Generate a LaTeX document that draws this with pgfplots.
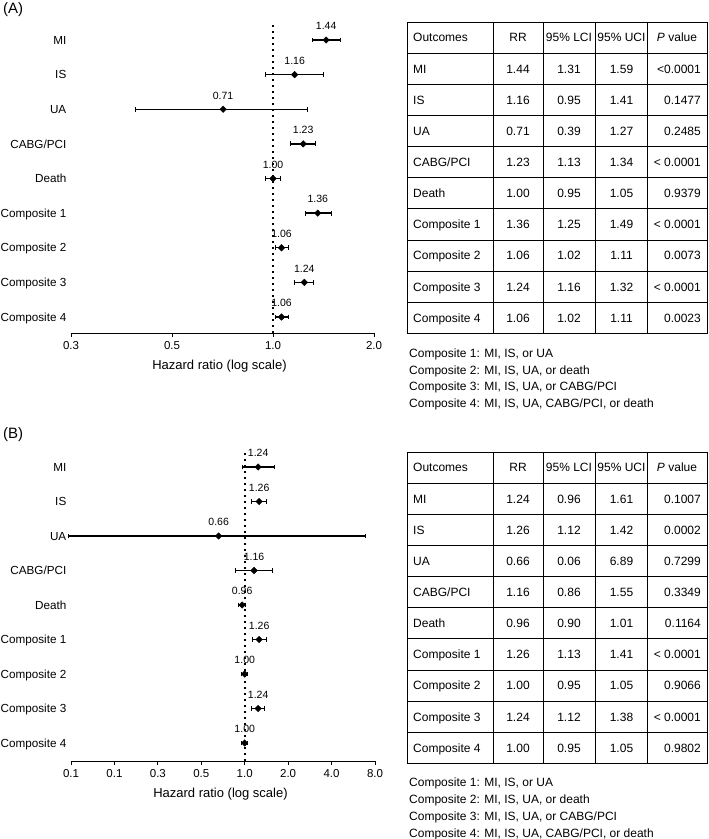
\documentclass[border=0pt]{standalone}
\usepackage{fontspec}
\setmainfont{Liberation Sans}
\usepackage{pgfplots}
\pgfplotsset{compat=1.18}
\usepackage{pgfplotstable}

% panel A: y position (9 = MI ... 1 = Composite 4), RR, lower CI, upper CI
\pgfplotstableread{
y rr lo hi
9 1.44 1.31 1.59
8 1.16 0.95 1.41
7 0.71 0.39 1.27
6 1.23 1.13 1.34
5 1.00 0.95 1.05
4 1.36 1.25 1.49
3 1.06 1.02 1.11
2 1.24 1.16 1.32
1 1.06 1.02 1.11
}\dataA
% panel B
\pgfplotstableread{
y rr lo hi
9 1.24 0.96 1.61
8 1.26 1.12 1.42
7 0.66 0.06 6.89
6 1.16 0.86 1.55
5 0.96 0.90 1.01
4 1.26 1.13 1.41
3 1.00 0.95 1.05
2 1.24 1.12 1.38
1 1.00 0.95 1.05
}\dataB

\newcommand{\trow}[7]{% #1 top y, #2 row index, #3..#7 cells
  \path (413,{#1+31.15*(#2+0.5)}) node[cell,anchor=west]{#3}
        (518,{#1+31.15*(#2+0.5)}) node[cell]{#4}
        (569,{#1+31.15*(#2+0.5)}) node[cell]{#5}
        (621.5,{#1+31.15*(#2+0.5)}) node[cell]{#6}
        (701,{#1+31.15*(#2+0.5)}) node[cell,anchor=east]{#7};}
\newcommand{\tgrid}[1]{% #1 top y
  \foreach \i in {0,...,10}{\draw[line width=0.9pt] (407,{#1+31.15*\i}) -- (707,{#1+31.15*\i});}
  \foreach \xx in {407,493,543,595.5,647.5,707}{\draw[line width=0.9pt] (\xx,#1) -- (\xx,{#1+311.5});}}

\begin{document}
\begin{tikzpicture}
\useasboundingbox (0,0) rectangle (709pt,-839pt);

% ---------------- Panel A ----------------
\begin{axis}[at={(71pt,-333pt)}, anchor=south west,
  scale only axis, xmode=log, log basis x=2,
  width=303pt, height=310.3pt, xmin=0.25, xmax=2, ymin=0.538, ymax=9.5,
  axis x line*=bottom, axis y line*=left,
  y axis line style={draw=none}, ytick style={draw=none},
  x axis line style={line width=0.9pt, black},
  xtick style={line width=0.9pt, black}, tick align=outside, major tick length=3.5pt,
  xtick={0.25,0.5,1,2}, xticklabels={0.3,0.5,1.0,2.0},
  ytick={1,2,3,4,5,6,7,8,9},
  yticklabels={Composite 4,Composite 3,Composite 2,Composite 1,Death,CABG/PCI,UA,IS,MI},
  yticklabel style={font=\fontsize{11.7}{14}\selectfont, anchor=east, inner sep=0pt, xshift=-1pt, text height=8.4pt, text depth=0pt},
  xticklabel style={font=\fontsize{11.5}{13}\selectfont, anchor=center, inner sep=0pt, text height=8.2pt, text depth=0pt, yshift=-8.4pt},
  clip=false,
  xlabel={Hazard ratio (log scale)},
  xlabel style={font=\fontsize{13}{15}\selectfont, at={(axis description cs:0.5,0)}, anchor=center, yshift=-33pt, xshift=-3pt}]
\addplot[black, line width=1.7pt, dash pattern=on 2.2pt off 3.8pt, forget plot] coordinates {(1,0.538) (1,9.42)};
\addplot[black, only marks, mark=square*, mark options={rotate=45}, mark size=2.3pt,
  point meta=explicit symbolic, nodes near coords,
  every node near coord/.append style={font=\fontsize{10.5}{12}\selectfont, anchor=center, inner sep=0pt, yshift=14pt, text height=7.5pt, text depth=0pt, rotate=0},
  error bars/x dir=both, error bars/x explicit,
  error bars/error mark=|,
  error bars/error bar style={line width=1.3pt, black},
  error bars/error mark options={line width=1pt, mark size=2.4pt, black, rotate=0}]
  table[x=rr, y=y, meta=rr,
  x error plus expr=\thisrow{hi}-\thisrow{rr},
  x error minus expr=\thisrow{rr}-\thisrow{lo}] {\dataA};
\end{axis}

% ---------------- Panel B ----------------
\begin{axis}[at={(71pt,-761pt)}, anchor=south west,
  scale only axis, xmode=log, log basis x=2,
  width=304pt, height=311.25pt, xmin=0.0625, xmax=8, ymin=0.478, ymax=9.5,
  axis x line*=bottom, axis y line*=left,
  y axis line style={draw=none}, ytick style={draw=none},
  x axis line style={line width=0.9pt, black},
  xtick style={line width=0.9pt, black}, tick align=outside, major tick length=3.5pt,
  xtick={0.0625,0.125,0.25,0.5,1,2,4,8}, xticklabels={0.1,0.1,0.3,0.5,1.0,2.0,4.0,8.0},
  ytick={1,2,3,4,5,6,7,8,9},
  yticklabels={Composite 4,Composite 3,Composite 2,Composite 1,Death,CABG/PCI,UA,IS,MI},
  yticklabel style={font=\fontsize{11.7}{14}\selectfont, anchor=east, inner sep=0pt, xshift=-1pt, text height=8.4pt, text depth=0pt},
  xticklabel style={font=\fontsize{11.5}{13}\selectfont, anchor=center, inner sep=0pt, text height=8.2pt, text depth=0pt, yshift=-8.4pt},
  clip=false,
  xlabel={Hazard ratio (log scale)},
  xlabel style={font=\fontsize{13}{15}\selectfont, at={(axis description cs:0.5,0)}, anchor=center, yshift=-33pt, xshift=-2.5pt}]
\addplot[black, line width=1.7pt, dash pattern=on 2.2pt off 3.8pt, forget plot] coordinates {(1,0.478) (1,9.43)};
\addplot[black, only marks, mark=square*, mark options={rotate=45}, mark size=2.3pt,
  point meta=explicit symbolic, nodes near coords,
  every node near coord/.append style={font=\fontsize{10.5}{12}\selectfont, anchor=center, inner sep=0pt, yshift=14pt, text height=7.5pt, text depth=0pt, rotate=0},
  error bars/x dir=both, error bars/x explicit,
  error bars/error mark=|,
  error bars/error bar style={line width=1.3pt, black},
  error bars/error mark options={line width=1pt, mark size=2.4pt, black, rotate=0}]
  table[x=rr, y=y, meta=rr,
  x error plus expr=\thisrow{hi}-\thisrow{rr},
  x error minus expr=\thisrow{rr}-\thisrow{lo}] {\dataB};
\end{axis}

\begin{scope}[x=1pt, y=-1pt, cell/.style={font=\fontsize{12}{14}\selectfont, inner sep=0pt, text height=8.6pt, text depth=0pt}]
\node[anchor=west, font=\fontsize{15}{17}\selectfont, inner sep=0pt] at (3,10) {(A)};
\node[anchor=west, font=\fontsize{15}{17}\selectfont, inner sep=0pt] at (3,435) {(B)};

% table A
\tgrid{22}
\trow{22}{0}{Outcomes}{RR}{95\% LCI}{95\% UCI}{}
\node[cell] at (677,{22+31.15*0.5}) {\textit{P} value};
\trow{22}{1}{MI}{1.44}{1.31}{1.59}{<0.0001}
\trow{22}{2}{IS}{1.16}{0.95}{1.41}{0.1477}
\trow{22}{3}{UA}{0.71}{0.39}{1.27}{0.2485}
\trow{22}{4}{CABG/PCI}{1.23}{1.13}{1.34}{< 0.0001}
\trow{22}{5}{Death}{1.00}{0.95}{1.05}{0.9379}
\trow{22}{6}{Composite 1}{1.36}{1.25}{1.49}{< 0.0001}
\trow{22}{7}{Composite 2}{1.06}{1.02}{1.11}{0.0073}
\trow{22}{8}{Composite 3}{1.24}{1.16}{1.32}{< 0.0001}
\trow{22}{9}{Composite 4}{1.06}{1.02}{1.11}{0.0023}
\node[cell,anchor=west] at (409,353) {Composite 1: MI, IS, or UA};
\node[cell,anchor=west] at (409,369.7) {Composite 2: MI, IS, UA, or death};
\node[cell,anchor=west] at (409,386.4) {Composite 3: MI, IS, UA, or CABG/PCI};
\node[cell,anchor=west] at (409,403.1) {Composite 4: MI, IS, UA, CABG/PCI, or death};

% table B
\tgrid{452}
\trow{452}{0}{Outcomes}{RR}{95\% LCI}{95\% UCI}{}
\node[cell] at (677,{452+31.15*0.5}) {\textit{P} value};
\trow{452}{1}{MI}{1.24}{0.96}{1.61}{0.1007}
\trow{452}{2}{IS}{1.26}{1.12}{1.42}{0.0002}
\trow{452}{3}{UA}{0.66}{0.06}{6.89}{0.7299}
\trow{452}{4}{CABG/PCI}{1.16}{0.86}{1.55}{0.3349}
\trow{452}{5}{Death}{0.96}{0.90}{1.01}{0.1164}
\trow{452}{6}{Composite 1}{1.26}{1.13}{1.41}{< 0.0001}
\trow{452}{7}{Composite 2}{1.00}{0.95}{1.05}{0.9066}
\trow{452}{8}{Composite 3}{1.24}{1.12}{1.38}{< 0.0001}
\trow{452}{9}{Composite 4}{1.00}{0.95}{1.05}{0.9802}
\node[cell,anchor=west] at (409,782) {Composite 1: MI, IS, or UA};
\node[cell,anchor=west] at (409,799) {Composite 2: MI, IS, UA, or death};
\node[cell,anchor=west] at (409,816) {Composite 3: MI, IS, UA, or CABG/PCI};
\node[cell,anchor=west] at (409,833) {Composite 4: MI, IS, UA, CABG/PCI, or death};
\end{scope}
\end{tikzpicture}
\end{document}
